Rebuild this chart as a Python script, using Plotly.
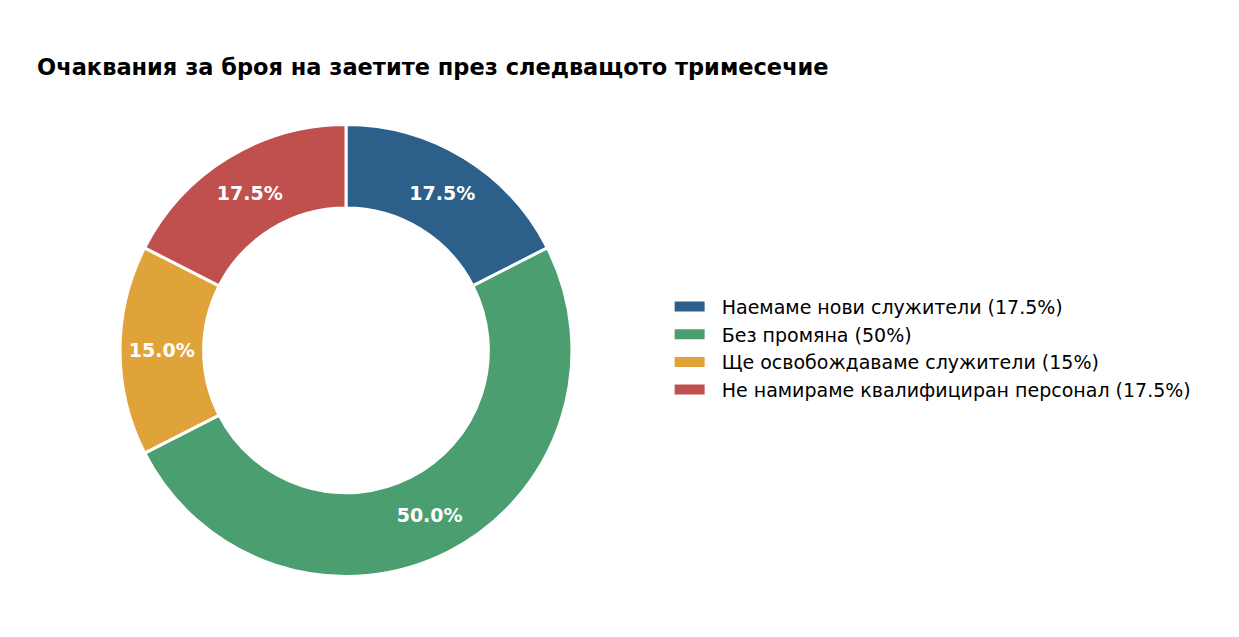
import plotly.graph_objects as go

labels = ["Наемаме нови служители", "Без промяна", "Ще освобождаваме служители", "Не намираме квалифициран персонал"]
values = [17.5, 50, 15, 17.5]
colors = ["#2c5f8a", "#4a9e6f", "#e0a339", "#c0504d"]

legend_names = [f"{l} ({v:g}%)" for l, v in zip(labels, values)]

fig = go.Figure(go.Pie(
    labels=legend_names,
    values=values,
    hole=0.63,
    sort=False,
    direction="clockwise",
    rotation=0,
    showlegend=False,
    marker=dict(colors=colors, line=dict(color="white", width=3)),
    texttemplate="%{percent:.1%}",
    textposition="inside",
    insidetextorientation="horizontal",
    textfont=dict(color="white", size=19, family="DejaVu Sans", weight="bold"),
    domain=dict(x=[0.0904, 0.4552], y=[0.1068, 0.818]),
))

# legend entries drawn as wide patches
for name, c in zip(legend_names, colors):
    fig.add_trace(go.Scatter(x=[None], y=[None], mode="lines", name="\u00a0\u00a0" + name,
                             line=dict(color=c, width=10)))

fig.update_layout(
    width=1239, height=637,
    margin=dict(l=0, r=0, t=0, b=0),
    paper_bgcolor="white",
    plot_bgcolor="white",
    xaxis=dict(visible=False),
    yaxis=dict(visible=False),
    font=dict(family="DejaVu Sans", color="black"),
    title=dict(text="<b>Очаквания за броя на заетите през следващото тримесечие</b>",
               x=0.0235, xanchor="left", y=0.907, yanchor="middle",
               font=dict(size=22.5, family="DejaVu Sans")),
    legend=dict(x=0.534, y=0.466, xanchor="left", yanchor="middle",
                font=dict(size=19), itemwidth=30, tracegroupgap=0),
)

fig.write_html("out.html")
